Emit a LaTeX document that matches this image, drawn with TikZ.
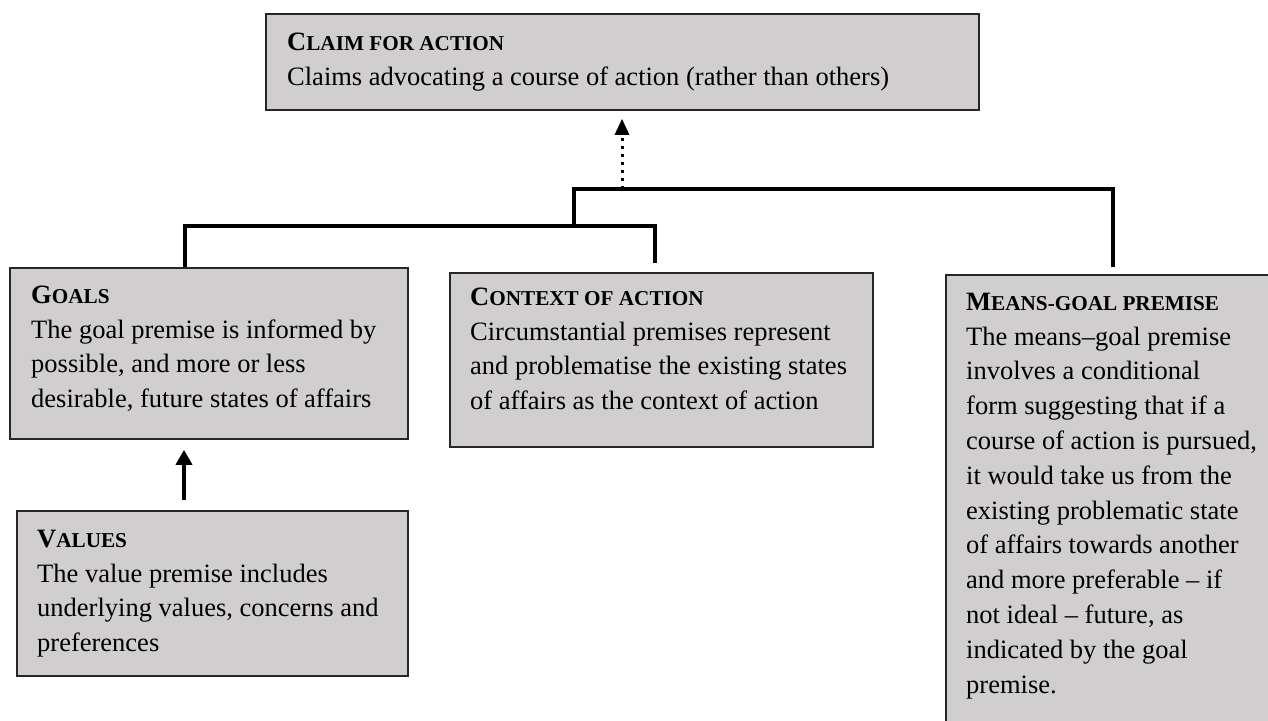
\documentclass[tikz,border=0pt]{standalone}
\usepackage{fontspec}
\setmainfont{Liberation Serif}
\usetikzlibrary{arrows.meta}
\definecolor{boxgray}{RGB}{208,206,207}
\newcommand\mysc[2]{{\bfseries #1\fontsize{21.2}{34.8}\selectfont #2}}
\begin{document}
\begin{tikzpicture}[x=1pt,y=-1pt,
  box/.style={draw=black!85, line width=1.8pt, fill=boxgray, rectangle, anchor=north west, inner sep=0pt},
  txt/.style={anchor=north west, inner sep=0pt, align=left, font=\fontsize{26.5}{34.8}\selectfont},
  conn/.style={line width=3.5pt, line cap=butt, miter limit=10},
  dotarrow/.style={line width=3pt, dash pattern=on 3.5pt off 4.5pt, -{Triangle[length=16pt,width=14pt]}},
  solidarrow/.style={conn, -{Triangle[length=15pt,width=16pt]}}
]
\path[use as bounding box] (0,0) rectangle (1268,720);
\clip (0,0) rectangle (1268,720);

% boxes
\node[box, minimum width=713pt, minimum height=96pt] (claim) at (265,13) {};
\node[box, minimum width=398pt, minimum height=171pt] (goals) at (9,267) {};
\node[box, minimum width=391pt, minimum height=165pt] (values) at (16,510) {};
\node[box, minimum width=423pt, minimum height=174pt] (context) at (449,272) {};
\node[box, minimum width=345pt, minimum height=470pt] (means) at (945,274) {};

% texts
\node[txt] (claimT) at (287,26) {\rule{0pt}{24pt}\mysc{C}{LAIM FOR ACTION}\\Claims advocating a course of action (rather than others)};
\node[txt] (goalsT) at (31,279) {\rule{0pt}{24pt}\mysc{G}{OALS}\\The goal premise is informed by\\possible, and more or less\\desirable, future states of affairs};
\node[txt] (valuesT) at (37,523) {\rule{0pt}{24pt}\mysc{V}{ALUES}\\The value premise includes\\underlying values, concerns and\\preferences};
\node[txt] (contextT) at (470,281) {\rule{0pt}{24pt}\mysc{C}{ONTEXT OF ACTION}\\Circumstantial premises represent\\and problematise the existing states\\of affairs as the context of action};
\node[txt] (meansT) at (966,286) {\rule{0pt}{24pt}\mysc{M}{EANS-GOAL PREMISE}\\The means--goal premise\\involves a conditional\\form suggesting that if a\\course of action is pursued,\\it would take us from the\\existing problematic state\\of affairs towards another\\and more preferable -- if\\not ideal -- future, as\\indicated by the goal\\premise.};

% connectors
\coordinate (gx) at (184,0);
\draw[solidarrow, shorten <=10pt, shorten >=10pt] (values.north -| gx) -- (goals.south -| gx);

\coordinate (lb1) at (185,226);
\coordinate (lb2) at (655,226);
\draw[conn, shorten >=9pt] (goals.north -| lb1) -- (lb1) -- (lb2) -- (context.north -| lb2);

\coordinate (ub0) at (574,228);
\coordinate (ub1) at (574,189);
\coordinate (ub2) at (1113,189);
\draw[conn, shorten >=7pt] (ub0) -- (ub1) -- (ub2) -- (means.north -| ub2);

\coordinate (dx) at (622,189);
\draw[dotarrow, shorten >=8pt] (dx) -- (claim.south -| dx);
\end{tikzpicture}
\end{document}
